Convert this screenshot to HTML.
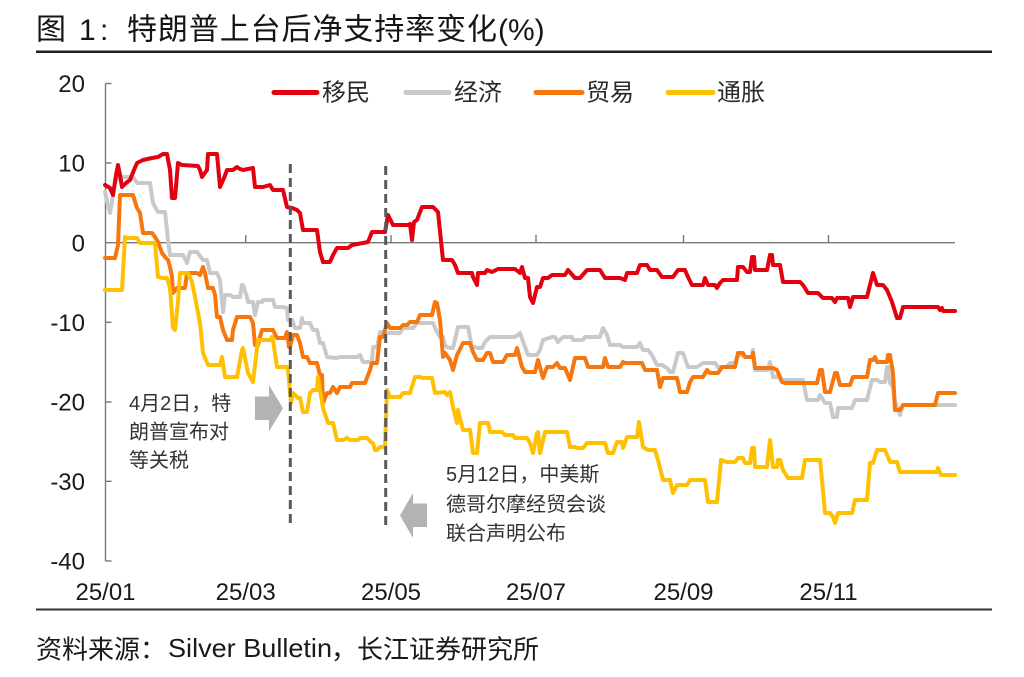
<!DOCTYPE html>
<html><head><meta charset="utf-8"><style>
html,body{margin:0;padding:0;background:#fff;}
svg{display:block;}
.cjk{font-family:"Liberation Sans","Noto Sans CJK SC",sans-serif;}
.lat{font-family:"Liberation Sans",sans-serif;}
</style></head><body>
<svg width="1024" height="677" viewBox="0 0 1024 677" xmlns="http://www.w3.org/2000/svg">
<rect width="1024" height="677" fill="#fff"/>
<!-- Title -->
<g fill="#151515" font-size="30">
<text class="cjk" x="36" y="39.5">图</text>
<text class="lat" x="79" y="40">1</text>
<text class="lat" x="100" y="40">:</text>
<text class="cjk" x="127" y="39.5" textLength="370" lengthAdjust="spacing">特朗普上台后净支持率变化</text>
<text class="lat" x="498" y="40">(%)</text>
</g>
<line x1="36" y1="51.7" x2="992" y2="51.7" stroke="#222" stroke-width="2.5"/>

<!-- Legend -->
<g stroke-width="5" stroke-linecap="round">
<line x1="274" y1="92.5" x2="317" y2="92.5" stroke="#e3000f"/>
<line x1="406" y1="92.5" x2="449" y2="92.5" stroke="#c9c9c9"/>
<line x1="536" y1="92.5" x2="582" y2="92.5" stroke="#f7770f"/>
<line x1="668" y1="92.5" x2="713" y2="92.5" stroke="#ffc000"/>
</g>
<g class="cjk" font-size="24" fill="#2a2a2a">
<text x="322" y="100.5">移民</text>
<text x="454" y="100.5">经济</text>
<text x="586" y="100.5">贸易</text>
<text x="717" y="100.5">通胀</text>
</g>

<!-- Axes -->
<g stroke="#777" stroke-width="1.4" fill="none">
<line x1="105.5" y1="83.5" x2="105.5" y2="561"/>
<line x1="105.5" y1="83.5" x2="111.5" y2="83.5"/>
<line x1="105.5" y1="163" x2="111.5" y2="163"/>
<line x1="105.5" y1="322.3" x2="111.5" y2="322.3"/>
<line x1="105.5" y1="402" x2="111.5" y2="402"/>
<line x1="105.5" y1="481.3" x2="111.5" y2="481.3"/>
<line x1="105.5" y1="561" x2="111.5" y2="561"/>
<line x1="105" y1="242.7" x2="955" y2="242.7"/>
<line x1="245.7" y1="242.7" x2="245.7" y2="235"/>
<line x1="391" y1="242.7" x2="391" y2="235"/>
<line x1="536" y1="242.7" x2="536" y2="235"/>
<line x1="683.5" y1="242.7" x2="683.5" y2="235"/>
<line x1="828.5" y1="242.7" x2="828.5" y2="235"/>
</g>
<g class="lat" font-size="24" fill="#1a1a1a" text-anchor="end">
<text x="85" y="92">20</text>
<text x="85" y="171.6">10</text>
<text x="85" y="251.3">0</text>
<text x="85" y="331">-10</text>
<text x="85" y="410.6">-20</text>
<text x="85" y="490">-30</text>
<text x="85" y="569.6">-40</text>
</g>
<g class="lat" font-size="24" fill="#1a1a1a" text-anchor="middle">
<text x="105.5" y="600">25/01</text>
<text x="245.7" y="600">25/03</text>
<text x="391" y="600">25/05</text>
<text x="536" y="600">25/07</text>
<text x="683.5" y="600">25/09</text>
<text x="828.5" y="600">25/11</text>
</g>

<!-- Series -->
<g fill="none" stroke-width="4" stroke-linejoin="round" stroke-linecap="round">
<polyline stroke="#c9c9c9" points="105,192 108,205 110,213 113,195 115,183 118,177 133,177 137,183 150,183 153,203 158,212 165,212 168,240 170,255 183,255 187,263 190,252 197,252 203,260 207,260 210,273 217,273 220,280 223,312 225,295 230,295 233,297 240,297 242,285 243,285 247,297 248,302 253,302 255,315 258,302 262,302 263,300 273,300 275,307 283,307 287,308 288,320 292,320 295,328 300,328 302,318 303,323 310,323 313,330 317,330 320,343 323,343 327,357 337,358 340,357 357,357 360,355 363,362 372,362 373,347 377,347 380,332 385,332 387,333 400,333 403,328 413,328 417,323 433,323 437,332 440,337 443,337 445,345 447,347 450,348 453,348 458,327 468,327 472,347 475,347 478,348 482,348 485,342 490,337 515,337 520,333 525,347 528,355 537,355 540,350 543,340 552,337 555,337 558,342 563,337 572,337 573,340 583,340 585,337 600,337 603,328 607,335 610,345 620,345 623,347 637,347 640,343 643,350 648,350 652,355 657,365 662,365 667,368 670,372 673,372 678,353 683,353 688,367 697,367 703,363 715,363 718,367 727,367 730,363 735,363 738,355 743,355 745,357 752,357 753,350 755,370 768,370 770,362 773,377 778,377 783,380 803,380 807,400 818,400 820,395 825,403 830,403 833,417 837,417 838,408 852,408 855,400 867,400 872,380 877,380 880,382 885,382 887,367 888,367 890,383 893,387 895,402 900,415 903,405 955,405"/>
<polyline stroke="#f7770f" points="105,258 115,258 118,245 120,195 133,195 137,208 140,213 143,233 152,233 155,237 158,242 162,253 165,257 168,260 170,267 172,277 173,293 177,288 185,288 187,273 197,273 200,275 203,267 205,273 208,288 213,288 215,295 217,317 220,317 223,330 227,340 232,340 233,330 237,317 250,317 253,323 255,345 258,345 260,337 262,330 273,330 277,338 285,338 287,332 289,347 290,347 293,335 297,335 300,343 303,357 307,357 310,363 317,363 320,375 322,375 323,403 327,393 330,393 333,387 337,393 340,387 350,387 352,383 365,383 370,370 372,363 377,363 380,337 383,337 387,323 390,328 400,328 403,325 407,325 410,322 417,322 420,315 432,315 435,302 437,303 440,320 443,357 445,353 450,360 453,370 457,355 463,343 470,343 473,352 477,360 483,360 487,353 490,353 493,362 503,362 507,355 515,355 517,348 522,367 525,372 535,372 538,360 543,378 547,367 553,367 557,363 560,368 565,368 570,380 575,358 585,358 588,367 603,367 605,358 608,367 620,367 623,362 625,363 642,363 645,370 657,370 660,387 663,378 677,378 680,392 687,392 690,382 693,377 703,377 707,370 710,373 718,373 722,367 727,367 735,367 738,353 743,353 745,357 752,357 753,353 755,368 773,368 777,370 782,382 785,383 817,383 820,370 822,370 825,392 830,392 835,373 837,373 840,385 850,385 853,377 867,377 870,360 873,360 875,357 877,362 887,362 888,355 890,355 893,373 895,410 900,410 903,405 935,405 938,393 955,393"/>
<polyline stroke="#ffc000" points="105,290 122,290 125,237 127,238 137,238 140,243 155,243 158,277 163,278 167,278 170,288 173,328 175,330 178,302 180,273 188,273 192,282 195,297 200,323 203,353 208,365 220,365 222,357 225,377 237,377 242,350 243,348 248,373 253,382 258,340 270,340 272,337 273,340 277,367 287,367 288,370 291,403 293,393 298,398 300,398 303,412 307,412 310,393 313,390 317,390 318,377 320,390 323,408 328,423 333,423 337,440 343,440 347,438 350,440 358,440 360,438 367,438 372,443 373,443 375,450 377,450 380,447 385,447 387,390 390,397 400,397 403,393 410,393 415,377 420,377 423,378 432,378 435,393 445,392 447,395 450,392 453,407 455,415 457,423 458,410 463,430 470,430 473,453 477,453 480,423 488,423 490,432 502,432 505,435 513,435 515,438 527,438 530,443 533,453 537,433 538,432 540,453 545,432 567,432 570,447 575,447 578,448 583,448 587,443 605,443 608,453 613,453 617,442 622,442 623,448 627,437 637,437 639,422 643,447 648,450 655,450 658,460 663,480 670,480 673,493 677,485 687,485 690,480 705,480 708,502 717,502 721,460 727,462 735,462 738,458 743,458 745,463 750,463 752,448 754,448 755,467 767,467 770,440 773,467 777,467 778,460 780,460 783,470 788,478 802,478 805,460 820,460 822,480 825,513 830,513 833,517 835,523 838,513 852,513 855,500 867,500 870,463 873,463 877,450 885,450 890,462 897,462 900,472 937,472 938,468 941,475 955,475"/>
<polyline stroke="#e3000f" points="105,185 110,188 113,195 116,175 118,165 120,175 122,187 126,183 130,180 134,170 137,163 143,160 152,158 158,157 163,154 167,154 170,170 172,198 175,198 178,163 182,165 198,166 200,170 202,177 207,170 208,154 217,154 220,187 224,178 227,170 233,170 237,167 240,169 243,170 253,168 255,187 263,187 270,185 273,190 283,190 287,207 292,208 297,210 300,213 303,230 317,230 320,252 323,262 330,262 333,255 337,248 348,248 352,245 363,243 368,242 372,232 385,232 388,215 393,225 408,225 410,224 412,240 414,222 417,220 422,207 433,207 438,212 443,260 452,260 455,265 458,273 472,273 473,277 477,285 478,273 485,273 487,270 492,272 498,269 515,269 520,273 522,267 525,278 528,278 530,297 533,303 537,287 540,287 543,278 548,278 552,275 565,275 568,270 575,278 580,278 587,270 600,270 605,278 620,278 625,280 627,273 637,273 640,265 647,265 650,270 657,270 662,277 673,277 678,270 685,270 688,277 692,285 703,285 705,278 708,285 715,285 717,288 720,283 723,280 737,280 738,267 743,267 747,272 750,272 752,257 754,257 755,270 767,270 770,255 772,255 773,265 780,265 783,282 800,282 803,285 808,293 818,293 823,298 832,298 835,302 837,298 848,298 850,307 853,297 867,297 873,273 877,285 883,285 887,290 892,302 897,318 900,318 903,307 938,307 940,310 942,308 943,311 955,311"/>
</g>

<!-- Dashed event lines -->
<g stroke="#595959" stroke-width="3" stroke-dasharray="9 5">
<line x1="290.3" y1="164" x2="290.3" y2="528"/>
<line x1="385.7" y1="166" x2="385.7" y2="529"/>
</g>

<!-- Arrows -->
<polygon fill="#b3b3b3" points="255,396.5 269,396.5 269,385 283,408.3 269,431.5 269,420 255,420"/>
<polygon fill="#b3b3b3" points="427,503.5 413,503.5 413,493 400,515.5 413,538 413,527 427,527"/>

<!-- Annotations -->
<g class="cjk" font-size="20" fill="#333">
<text x="129" y="410">4月2日，特</text>
<text x="129" y="438.5">朗普宣布对</text>
<text x="129" y="467">等关税</text>
<text x="446" y="481">5月12日，中美斯</text>
<text x="446" y="511">德哥尔摩经贸会谈</text>
<text x="446" y="540">联合声明公布</text>
</g>

<line x1="36" y1="609.5" x2="992" y2="609.5" stroke="#333" stroke-width="2"/>

<!-- Source -->
<g fill="#1a1a1a" font-size="26">
<text class="cjk" x="36" y="658.5">资料来源：</text>
<text class="lat" x="168" y="657" textLength="164" lengthAdjust="spacingAndGlyphs">Silver Bulletin</text>
<text class="cjk" x="331" y="658.5">，长江证券研究所</text>
</g>
</svg>
</body></html>
